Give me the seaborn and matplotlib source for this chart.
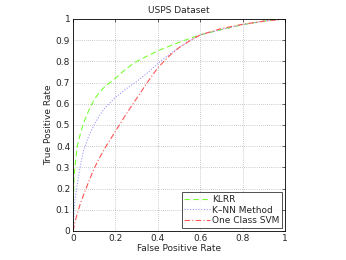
import numpy as np
import pandas as pd
import matplotlib
matplotlib.use("Agg")
import matplotlib.pyplot as plt
import seaborn as sns

# ROC points
fpr = [0.0, 0.005, 0.01, 0.02, 0.035, 0.05, 0.075, 0.1, 0.125, 0.15, 0.2, 0.25, 0.3, 0.35, 0.4,
       0.45, 0.5, 0.55, 0.6, 0.7, 0.8, 0.9, 1.0]
tpr_klrr = [0.1, 0.25, 0.31, 0.40, 0.46, 0.51, 0.57, 0.62, 0.655, 0.68, 0.72, 0.765, 0.80, 0.825, 0.85,
            0.87, 0.89, 0.908, 0.925, 0.95, 0.973, 0.99, 1.0]
tpr_knn = [0.0, 0.10, 0.15, 0.22, 0.31, 0.38, 0.45, 0.50, 0.545, 0.58, 0.63, 0.67, 0.705, 0.745, 0.79,
           0.83, 0.865, 0.897, 0.925, 0.95, 0.973, 0.99, 1.0]
tpr_svm = [0.0, 0.02, 0.045, 0.08, 0.13, 0.17, 0.235, 0.295, 0.345, 0.39, 0.47, 0.55, 0.625, 0.70, 0.77,
           0.822, 0.865, 0.897, 0.925, 0.955, 0.975, 0.99, 1.0]

sns.set_style("white")
plt.rcParams['font.family'] = ['DejaVu Sans']

fig = plt.figure(figsize=(3.46, 2.6), dpi=100)
ax = fig.add_axes([0.211, 0.112, 0.613, 0.815])

sns.lineplot(x=fpr, y=tpr_klrr, ax=ax, color="#77ff33", linestyle=(0, (5, 3)), lw=0.8, label="KLRR")
sns.lineplot(x=fpr, y=tpr_knn, ax=ax, color="#9999ff", linestyle=(0, (1, 1.5)), lw=0.8, label="K\u2013NN Method")
sns.lineplot(x=fpr, y=tpr_svm, ax=ax, color="#ff5555", linestyle=(0, (5, 2, 1, 2)), lw=0.8, label="One Class SVM")

ax.set_xlim(0, 1)
ax.set_ylim(0, 1)
ax.set_xticks([0, 0.2, 0.4, 0.6, 0.8, 1])
ax.set_xticklabels(["0", "0.2", "0.4", "0.6", "0.8", "1"])
ax.set_yticks(np.arange(0, 1.01, 0.1))
ax.set_yticklabels(["0"] + ["%.1f" % v for v in np.arange(0.1, 1.0, 0.1)] + ["1"])
ax.grid(True, linestyle=(0, (1, 2)), color="#999999", lw=0.5)
ax.tick_params(direction="in", labelsize=6.5, length=2, width=0.5, top=True, right=True, pad=2)
for s in ax.spines.values():
    s.set_linewidth(0.6)
    s.set_color("black")

ax.set_xlabel("False Positive Rate", fontsize=6.5, labelpad=1)
ax.set_ylabel("True Positive Rate", fontsize=6.5, labelpad=2)
ax.set_title("USPS Dataset", fontsize=6.5, pad=4)

leg = ax.legend(loc="lower right", fontsize=6.5, frameon=True, fancybox=False,
                edgecolor="black", borderpad=0.3, labelspacing=0.2, handlelength=2.8,
                handletextpad=0.3, borderaxespad=0.3)
leg.get_frame().set_linewidth(0.6)

fig.savefig("out.png", dpi=100)
